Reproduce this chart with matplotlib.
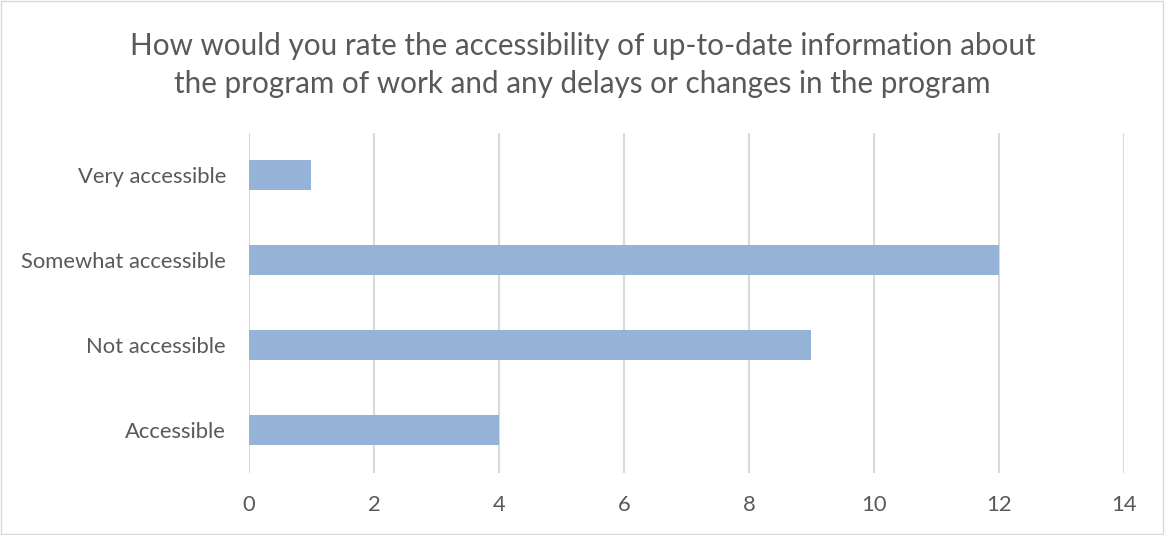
import matplotlib
matplotlib.use("Agg")
import matplotlib.pyplot as plt
from matplotlib.patches import Rectangle

categories = ["Accessible", "Not accessible", "Somewhat accessible", "Very accessible"]
values = [4, 9, 12, 1]
xticks = [0, 2, 4, 6, 8, 10, 12, 14]

plt.rcParams['font.family'] = ['Lato', 'DejaVu Sans']
gray = '#595959'

fig = plt.figure(figsize=(11.65, 5.35), dpi=100)
ax = fig.add_axes([0.2137, 0.1168, 0.7511, 0.6355])

ax.barh(range(len(categories)), values, height=0.35, color='#95B3D7', zorder=3)
ax.set_yticks(range(len(categories)))
ax.set_yticklabels(categories, fontsize=15.8, color=gray)
ax.set_ylim(-0.5, len(categories) - 0.5)
ax.set_xlim(0, 14)
ax.set_xticks(xticks)
ax.set_xticklabels([str(t) for t in xticks], fontsize=15.8, color=gray)
ax.grid(axis='x', color='#D9D9D9', linewidth=1.5, zorder=0)
for s in ax.spines.values():
    s.set_visible(False)
ax.tick_params(axis='y', length=0, pad=16.5)
ax.tick_params(axis='x', length=0, pad=16)

fig.text(0.5, 0.8785,
         "How would you rate the accessibility of up-to-date information about\n"
         "the program of work and any delays or changes in the program",
         fontsize=21.3, color=gray, ha='center', va='center', linespacing=1.4)

fig.patches.append(Rectangle((0.001, 0.002), 0.997, 0.996, transform=fig.transFigure,
                             fill=False, edgecolor='#D9D9D9', linewidth=1))

fig.savefig("out.png", dpi=100)
